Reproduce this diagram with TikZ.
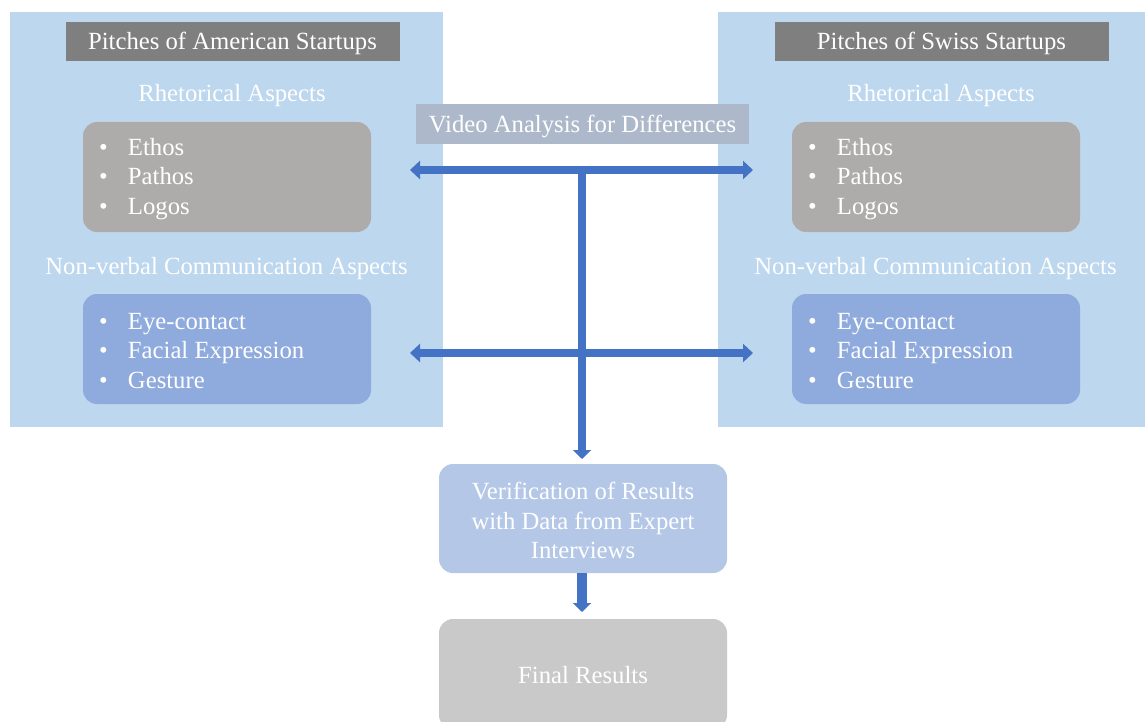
\documentclass[tikz,border=0pt]{standalone}
\usepackage{fontspec}
\setmainfont{Liberation Serif}
\usetikzlibrary{arrows.meta,calc}
\definecolor{panelblue}{HTML}{BDD7EE}
\definecolor{headgray}{HTML}{7F7F7F}
\definecolor{rhetgray}{HTML}{AEABAB}
\definecolor{nvblue}{HTML}{8FAADC}
\definecolor{videogray}{HTML}{ADB9CA}
\definecolor{verifblue}{HTML}{B4C7E7}
\definecolor{finalgray}{HTML}{C9C9C9}
\definecolor{arrowblue}{HTML}{4472C4}
\newcommand{\itm}[1]{\makebox[29pt][l]{•}#1}
\begin{document}
\begin{tikzpicture}[x=1pt,y=-1pt,
  every node/.style={inner sep=0pt, outer sep=0pt, text=white,
    font=\fontsize{24.7}{29.5}\selectfont},
  panel/.style={fill=panelblue, minimum width=433, minimum height=415},
  header/.style={fill=headgray, draw=gray, line width=0.4pt, minimum width=333, minimum height=38},
  itembox/.style={rounded corners=14, minimum width=288, minimum height=110},
  flowbox/.style={rounded corners=14, minimum width=288, minimum height=109, align=center},
  bigarrow/.style={draw=arrowblue, line width=8pt},
  dbl/.style={bigarrow, {Triangle[length=10pt,width=18pt]}-{Triangle[length=10pt,width=18pt]}},
  down/.style={bigarrow, -{Triangle[length=9pt,width=18pt]}}
]
\useasboundingbox (0,0) rectangle (1145,722);
\clip (0,0) rectangle (1145,722);

% side panels
\node[panel] (amer) at (226.5,219.5) {};
\node[panel] (swiss) at (934.5,219.5) {};

% panel titles
\node[header] (amerhead) at (232.5,41) {};
\node[header] (swisshead) at (941.5,41) {};
\node (amerheadtxt) at (232.5,43) {Pitches of American Startups};
\node (swissheadtxt) at (941.5,43) {Pitches of Swiss Startups};

% section captions
\node (amerrhetlbl) at (232,96) {Rhetorical Aspects};
\node (swissrhetlbl) at (941,96) {Rhetorical Aspects};
\node (amernvlbl) at (226.5,269) {Non-verbal Communication Aspects};
\node (swissnvlbl) at (935.5,269) {Non-verbal Communication Aspects};

% rhetorical aspects
\node[itembox, fill=rhetgray] (amerrhet) at (227,177) {};
\node[itembox, fill=rhetgray] (swissrhet) at (936,177) {};
\node[anchor=west, align=left] (amerrhettxt) at ($(amerrhet.west)+(16,2)$)
  {\itm{Ethos}\\\itm{Pathos}\\\itm{Logos}};
\node[anchor=west, align=left] (swissrhettxt) at ($(swissrhet.west)+(16,2)$)
  {\itm{Ethos}\\\itm{Pathos}\\\itm{Logos}};

% non-verbal aspects
\node[itembox, fill=nvblue] (amernv) at (227,349) {};
\node[itembox, fill=nvblue] (swissnv) at (936,349) {};
\node[anchor=west, align=left] (amernvtxt) at ($(amernv.west)+(16,2)$)
  {\itm{Eye-contact}\\\itm{Facial Expression}\\\itm{Gesture}};
\node[anchor=west, align=left] (swissnvtxt) at ($(swissnv.west)+(16,2)$)
  {\itm{Eye-contact}\\\itm{Facial Expression}\\\itm{Gesture}};

% central analysis
\node[fill=videogray, minimum width=333, minimum height=40] (video) at (582.5,124) {};
\node (videotxt) at (582.5,126) {Video Analysis for Differences};

% flow boxes
\node[flowbox, fill=verifblue] (verif) at (583,518.5) {};
\node[align=center] (veriftxt) at (583,520.5)
  {Verification of Results\\with Data from Expert\\Interviews};
\node[flowbox, fill=finalgray, minimum height=110] (final) at (583,674) {};
\node (finaltxt) at (583,675) {Final Results};

% arrow end points
\coordinate (l1) at (410,170);
\coordinate (r1) at (753,170);
\coordinate (l2) at (410,353);
\coordinate (r2) at (753,353);
\coordinate (vtop) at (582,166);

% arrows
\draw[down, shorten >=5pt] (vtop) -- (vtop |- verif.north);
\draw[dbl] (l1) -- (r1);
\draw[dbl] (l2) -- (r2);
\draw[down, line width=10pt, shorten >=7pt] (verif.south -| vtop) -- (vtop |- final.north);
\end{tikzpicture}
\end{document}
